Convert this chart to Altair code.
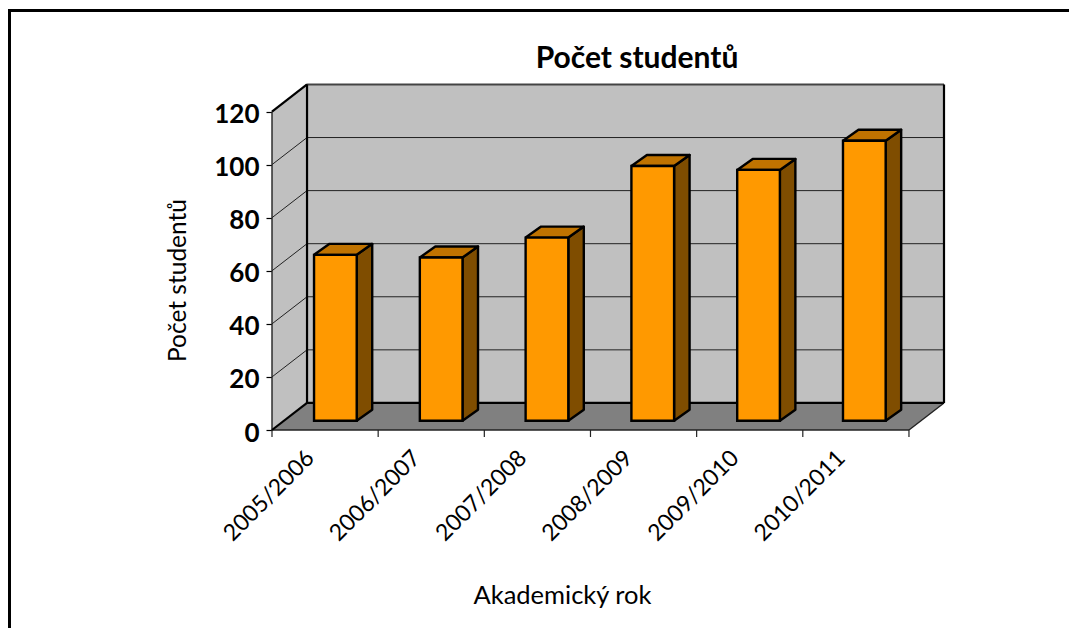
import json
import altair as alt
import pandas as pd

YEARS = ["2005/2006", "2006/2007", "2007/2008", "2008/2009", "2009/2010", "2010/2011"]
STUDENTS = [62.5, 61.5, 69, 96, 94.5, 105.5]
GRID = [20, 40, 60, 80, 100, 120]
Y_TICKS = [0, 20, 40, 60, 80, 100, 120]

# chart depth in data units
DX, DY = 0.33, 10.2
# bar geometry in data units
OFF, STEP, BW, BDX, BDY, BASE = 0.396, 0.9965, 0.402, 0.146, 4.15, 3.5

xs = alt.Scale(domain=[0, 6.33], nice=False, zero=False)
ys = alt.Scale(domain=[0, 130], nice=False, zero=False)
BLACK = "#000000"
label_expr = "%s[round(datum.value - 0.5)]" % json.dumps(YEARS)
x_axis = alt.Axis(
    values=[i + 0.5 for i in range(len(YEARS))], labelExpr=label_expr, labelAngle=-45, labelAlign="right",
    labelBaseline="middle", ticks=False, domain=False, grid=False, labelFont="Lato", labelFontSize=23,
    labelColor=BLACK, labelPadding=24, labelOffset=-15, labelOverlap=False, labelFlush=False, titleFont="Lato",
    titleFontSize=25.5, titleFontWeight="normal", titleColor=BLACK, titleX=290, titleY=165, titleBaseline="middle")
y_axis = alt.Axis(
    values=Y_TICKS, ticks=True, tickSize=6, tickColor=BLACK, tickWidth=1.2, domain=False, grid=False,
    labelFont="Lato", labelFontWeight="bold", labelFontSize=26, labelColor=BLACK, labelPadding=7, labelOffset=3,
    titleFont="Lato", titleFontSize=24.5, titleFontWeight="normal", titleColor=BLACK, titleX=-94, titleY=195,
    titleBaseline="middle")
X = alt.X("x:Q", scale=xs, axis=x_axis, title="Akademický rok")
Y = alt.Y("y:Q", scale=ys, axis=y_axis, title="Počet studentů")
X2 = alt.X2("x2:Q")
Y2 = alt.Y2("y2:Q")


def poly(faces, fill, sw=0.0, stroke=BLACK):
    rows = []
    for k, pts in enumerate(faces):
        for o, (px, py) in enumerate(list(pts) + [pts[0]]):
            rows.append({"id": k, "o": o, "x": px, "y": py})
    return alt.Chart(pd.DataFrame(rows)).mark_line(
        fill=fill, stroke=stroke, strokeWidth=sw, clip=False, strokeJoin="round"
    ).encode(x=X, y=Y, detail="id:N", order="o:Q")


def seg(pairs, sw, color=BLACK):
    rows = []
    for k, (a, b) in enumerate(pairs):
        rows.append({"id": k, "o": 0, "x": a[0], "y": a[1]})
        rows.append({"id": k, "o": 1, "x": b[0], "y": b[1]})
    return alt.Chart(pd.DataFrame(rows)).mark_line(
        color=color, strokeWidth=sw, clip=False
    ).encode(x=X, y=Y, detail="id:N", order="o:Q")


# room surfaces
XE = 6 + DX
side_wall = poly([[(0, 0), (DX, DY), (DX, 120 + DY), (0, 120)]], "#C0C0C0")
back_wall = poly([[(DX, DY), (XE, DY), (XE, 120 + DY), (DX, 120 + DY)]], "#C0C0C0")
floor = poly([[(0, 0), (6, 0), (XE, DY), (DX, DY)]], "#808080")

grid = seg([((DX, DY + g), (XE, DY + g)) for g in GRID[:-1]], 1, "#222222")
diag = seg([((0, g), (DX, DY + g)) for g in GRID[:-1]], 1, "#222222")
top_edge = seg([((DX, 120 + DY), (XE, 120 + DY))], 2, "#444444")
heavy = seg([
    ((DX, DY), (DX, 120 + DY)),
    ((DX, DY), (XE, DY)),
    ((XE, DY), (XE, 120 + DY)),
    ((0, 120), (DX, 120 + DY)),
    ((0, 0), (DX, DY)),
], 2.2)
thin = seg([
    ((0, 0), (0, 120)),
    ((0, 0), (6, 0)),
    ((6, 0), (XE, DY)),
], 1.4, "#222222")

# bars
fronts, sides, tops = [], [], []
for i, v in enumerate(STUDENTS):
    l = OFF + STEP * i
    r = l + BW
    t = BASE + v
    fronts.append({"x": l, "x2": r, "y": BASE, "y2": t})
    sides.append([(r, BASE), (r + BDX, BASE + BDY), (r + BDX, t + BDY), (r, t)])
    tops.append([(l, t), (r, t), (r + BDX, t + BDY), (l + BDX, t + BDY)])
front = alt.Chart(pd.DataFrame(fronts)).mark_rect(fill="#FF9900", stroke=BLACK, strokeWidth=2.4).encode(x=X, x2=X2, y=Y, y2=Y2)
side = poly(sides, "#7F4D00", 2.4)
top = poly(tops, "#C07300", 2.4)

xticks = alt.Chart(pd.DataFrame({"x": list(range(len(YEARS) + 1))})).mark_rule(
    color="#222222", strokeWidth=1.2, clip=False
).encode(x=X, y=alt.value(345), y2=alt.value(352))

# outer frame (only top and left edges are in view)
frame_top = alt.Chart(pd.DataFrame({"a": [0]})).mark_rule(color=BLACK, strokeWidth=3, clip=False).encode(
    x=alt.value(-264), x2=alt.value(805), y=alt.value(-74.5))
frame_left = alt.Chart(pd.DataFrame({"a": [0]})).mark_rule(color=BLACK, strokeWidth=3, clip=False).encode(
    x=alt.value(-262.5), y=alt.value(-76), y2=alt.value(543))

chart = alt.layer(
    side_wall, back_wall, floor, grid, diag, top_edge, thin, heavy, xticks,
    side, top, front, frame_top, frame_left
).properties(
    width=672, height=345,
    padding={"left": 264, "top": 77, "right": 125, "bottom": 198},
    autosize=alt.AutoSizeParams(type="none"),
    background="white",
    title=alt.TitleParams("Počet studentů", font="Lato", fontSize=30, fontWeight="bold", color=BLACK,
                          anchor="middle", dx=29, dy=66, offset=0),
).configure_view(stroke=None)

chart.save("out.html", embed_options={"renderer": "svg", "actions": False})
